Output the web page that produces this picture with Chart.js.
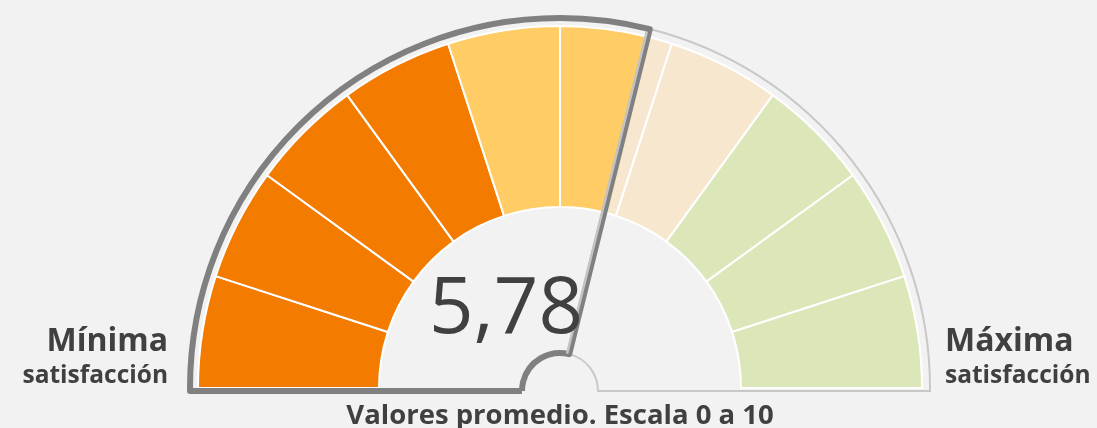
<!DOCTYPE html>
<html>
<head>
<meta charset="utf-8">
<title>Satisfacción</title>
<script src="https://cdn.jsdelivr.net/npm/chart.js@4.4.1/dist/chart.umd.min.js"></script>
<style>
  html, body { margin: 0; padding: 0; background: #f2f2f2; }
  #wrap { width: 1097px; height: 428px; }
</style>
</head>
<body>
<div id="wrap"><canvas id="gauge" width="1097" height="428"></canvas></div>
<script>
// scale 0..10, one segment per unit
var scaleSteps = [1, 2, 3, 4, 5, 6, 7, 8, 9, 10];
var fullColors = ['#f27b00', '#f27b00', '#f27b00', '#f27b00', '#ffcc66', '#ffcc66', '#ffcc66', '#a9c94e', '#a9c94e', '#a9c94e'];
var fadedColors = ['#f9dcbc', '#f9dcbc', '#f9dcbc', '#f9dcbc', '#f7e7ce', '#f7e7ce', '#f7e7ce', '#dce7b9', '#dce7b9', '#dce7b9'];
var scoreValue = 5.78;
var scoreLabel = '5,78';
var leftLabel = ['Mínima', 'satisfacción'];
var rightLabel = ['Máxima', 'satisfacción'];
var footLabel = 'Valores promedio. Escala 0 a 10';

var FONT = '"Open Sans", sans-serif';

// split the unit segments at the score
var segValues = [];
var segColors = [];
var filledCount = 0;
scaleSteps.forEach(function (top, i) {
    var low = top - 1;
    if (scoreValue >= top) {
        segValues.push(1); segColors.push(fullColors[i]); filledCount++;
    } else if (scoreValue > low) {
        segValues.push(scoreValue - low); segColors.push(fullColors[i]); filledCount++;
        segValues.push(top - scoreValue); segColors.push(fadedColors[i]);
    } else {
        segValues.push(1); segColors.push(fadedColors[i]);
    }
});

var gaugeDecor = {
    id: 'gaugeDecor',
    afterDatasetsDraw: function (chart) {
        var ctx = chart.ctx;
        var arcs = chart.getDatasetMeta(0).data;
        var cx = arcs[0].x, cy = arcs[0].y;
        var R = arcs[0].outerRadius + 8;
        var a = arcs[filledCount - 1].endAngle;
        var by = cy + 3;
        var rs = 38;

        ctx.save();
        // empty part outline
        ctx.beginPath();
        ctx.moveTo(cx + R * Math.cos(a), cy + R * Math.sin(a));
        ctx.arc(cx, cy, R, a, 0);
        ctx.lineTo(cx + R, by);
        ctx.lineTo(cx + rs, by);
        ctx.arc(cx, by, rs, 0, a, true);
        ctx.strokeStyle = '#c8c8c8';
        ctx.lineWidth = 2;
        ctx.stroke();

        // filled part outline
        ctx.beginPath();
        ctx.moveTo(cx - rs, by);
        ctx.lineTo(cx - R, by);
        ctx.lineTo(cx - R, cy);
        ctx.arc(cx, cy, R, Math.PI, a);
        ctx.lineTo(cx + rs * Math.cos(a), by + rs * Math.sin(a));
        ctx.arc(cx, by, rs, a, -Math.PI, true);
        ctx.strokeStyle = '#808080';
        ctx.lineWidth = 6;
        ctx.lineJoin = 'round';
        ctx.stroke();

        // lighter edge on needle
        var nx = -Math.sin(a), ny = Math.cos(a);
        var off = 2.2;
        ctx.beginPath();
        ctx.moveTo(cx + rs * Math.cos(a) - nx * off, by + rs * Math.sin(a) - ny * off);
        ctx.lineTo(cx + (R - 3) * Math.cos(a) - nx * off, cy + (R - 3) * Math.sin(a) - ny * off);
        ctx.strokeStyle = '#c4c4c4';
        ctx.lineWidth = 2.5;
        ctx.stroke();

        // texts
        ctx.fillStyle = '#404040';
        ctx.textBaseline = 'alphabetic';
        ctx.textAlign = 'center';
        ctx.font = '400 78px ' + FONT;
        ctx.fillText(scoreLabel, 506, 333);

        ctx.textAlign = 'right';
        ctx.font = '700 32px ' + FONT;
        ctx.fillText(leftLabel[0], 168, 351);
        ctx.font = '700 24.5px ' + FONT;
        ctx.fillText(leftLabel[1], 168, 383);

        ctx.textAlign = 'left';
        ctx.font = '700 32px ' + FONT;
        ctx.fillText(rightLabel[0], 945, 351);
        ctx.font = '700 24.5px ' + FONT;
        ctx.fillText(rightLabel[1], 945, 383);

        ctx.textAlign = 'center';
        ctx.font = '700 27.5px ' + FONT;
        ctx.fillText(footLabel, 560, 424);
        ctx.restore();
    }
};

new Chart(document.getElementById('gauge'), {
    type: 'doughnut',
    data: {
        labels: segValues.map(function (v, i) { return 'seg' + i; }),
        datasets: [{
            data: segValues,
            backgroundColor: segColors,
            borderColor: '#ffffff',
            borderWidth: 2
        }]
    },
    options: {
        responsive: false,
        animation: false,
        rotation: -90,
        circumference: 180,
        cutout: '50%',
        layout: { padding: { left: 197, right: 174, top: 25, bottom: 39 } },
        plugins: {
            legend: { display: false },
            tooltip: { enabled: false }
        }
    },
    plugins: [gaugeDecor]
});
</script>
</body>
</html>
